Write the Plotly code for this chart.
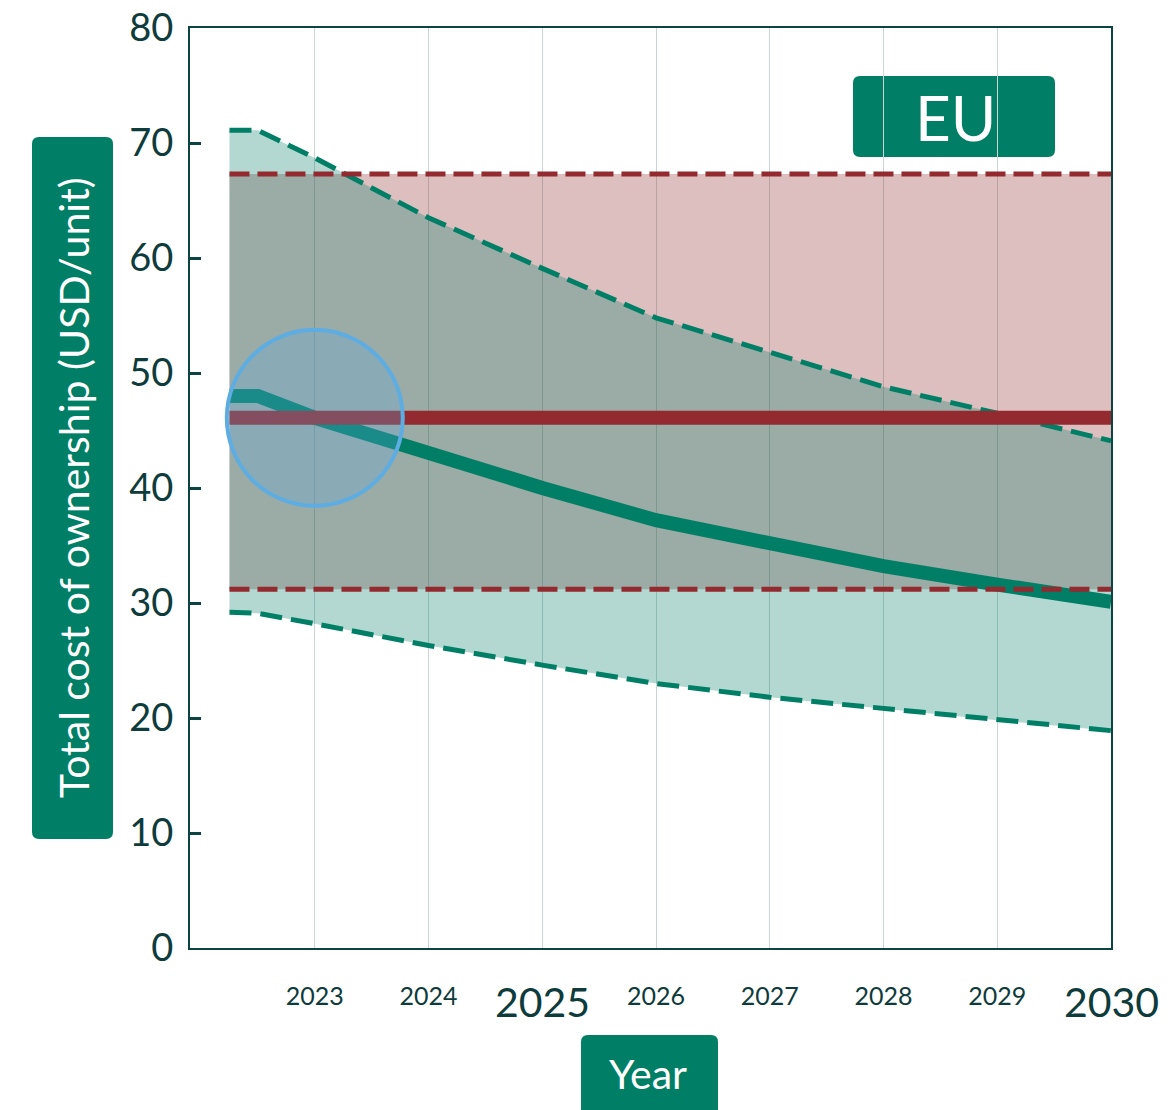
import plotly.graph_objects as go

# canvas and plot-area margins (pixels)
W, H = 1174, 1110
ML, MR, MT, MB = 190, 63, 28, 162

TEAL = "#007F66"
RED = "#922A2F"
DARK = "#0E3B3C"
BLUE = "#5DADE2"

# EU total cost of ownership (USD/unit)
years = [2022.25, 2022.5, 2023, 2024, 2025, 2026, 2027, 2028, 2029, 2030]
eu_high = [71.1, 71.1, 68.7, 63.5, 59.1, 54.8, 51.8, 48.8, 46.5, 44.1]
eu_mid = [48.0, 48.0, 46.1, 43.0, 40.0, 37.2, 35.2, 33.2, 31.6, 30.1]
eu_low = [29.2, 29.1, 28.2, 26.3, 24.6, 23.0, 21.8, 20.8, 19.8, 18.9]

# reference (flat) band
ref_years = [2022.25, 2030]
ref_high = [67.3, 67.3]
ref_mid = [46.1, 46.1]
ref_low = [31.2, 31.2]

tick_years = [2023, 2024, 2025, 2026, 2027, 2028, 2029, 2030]
big_years = [2025, 2030]
y_ticks = [0, 10, 20, 30, 40, 50, 60, 70, 80]

# highlighted point
hl_year, hl_value = 2023, 46.1

X_RANGE = [2021.903, 2030]
Y_RANGE = [0, 80]

PW = W - ML - MR
PH = H - MT - MB


def px_to_paper(x, y):
    return (x - ML) / PW, (H - MB - y) / PH


def rounded_box(x0, y0, x1, y1, r):
    pts = [
        ("M", (x0 + r, y0)),
        ("L", (x1 - r, y0)),
        ("Q", (x1, y0), (x1, y0 + r)),
        ("L", (x1, y1 - r)),
        ("Q", (x1, y1), (x1 - r, y1)),
        ("L", (x0 + r, y1)),
        ("Q", (x0, y1), (x0, y1 - r)),
        ("L", (x0, y0 + r)),
        ("Q", (x0, y0), (x0 + r, y0)),
    ]
    path = ""
    for cmd, *ps in pts:
        coords = " ".join("%.5f,%.5f" % px_to_paper(*p) for p in ps)
        path += cmd + coords + " "
    return dict(type="path", xref="paper", yref="paper", path=path + "Z",
                fillcolor=TEAL, line=dict(width=0), layer="below")


def label(text, cx, cy, size, family="Lato", angle=0):
    x, y = px_to_paper(cx, cy)
    fig.add_annotation(x=x, y=y, xref="paper", yref="paper", text=text,
                       xanchor="center", yanchor="middle", textangle=angle,
                       showarrow=False,
                       font=dict(size=size, color="white", family=family))


fig = go.Figure()

# red reference band
fig.add_trace(go.Scatter(x=ref_years, y=ref_low, mode="lines",
                         line=dict(width=0), showlegend=False, hoverinfo="skip"))
fig.add_trace(go.Scatter(x=ref_years, y=ref_high, mode="lines", fill="tonexty",
                         fillcolor="rgba(146,42,47,0.3)",
                         line=dict(width=0), showlegend=False, hoverinfo="skip"))

# EU band
fig.add_trace(go.Scatter(x=years, y=eu_low, mode="lines",
                         line=dict(width=0), showlegend=False, hoverinfo="skip"))
fig.add_trace(go.Scatter(x=years, y=eu_high, mode="lines", fill="tonexty",
                         fillcolor="rgba(0,127,102,0.3)",
                         line=dict(width=0), showlegend=False, hoverinfo="skip"))

# EU lines
for ys in (eu_low, eu_high):
    fig.add_trace(go.Scatter(x=years, y=ys, mode="lines",
                             line=dict(color=TEAL, width=5, dash="22px,9px"),
                             showlegend=False))
fig.add_trace(go.Scatter(x=years, y=eu_mid, mode="lines",
                         line=dict(color=TEAL, width=14), showlegend=False))

# reference lines
for ys in (ref_low, ref_high):
    fig.add_trace(go.Scatter(x=ref_years, y=ys, mode="lines",
                             line=dict(color=RED, width=5, dash="20px,8px"),
                             showlegend=False))
fig.add_trace(go.Scatter(x=ref_years, y=ref_mid, mode="lines",
                         line=dict(color=RED, width=14), showlegend=False))

# highlight circle (radius in pixels)
r_px = 88
dx = r_px * (X_RANGE[1] - X_RANGE[0]) / PW
dy = r_px * (Y_RANGE[1] - Y_RANGE[0]) / PH
fig.add_shape(type="circle", xref="x", yref="y",
              x0=hl_year - dx, x1=hl_year + dx,
              y0=hl_value - dy, y1=hl_value + dy,
              fillcolor="rgba(93,173,226,0.28)",
              line=dict(color=BLUE, width=4), layer="above")

# label boxes
fig.add_shape(rounded_box(853, 76, 1055, 157, 7))
fig.add_shape(rounded_box(32, 137, 113, 839, 7))
fig.add_shape(rounded_box(581, 1035, 718, 1125, 7))

label("EU", 955, 117, 62)
label("Total cost of ownership (USD/unit)", 73, 488, 41, angle=-90)
label("Year", 648, 1073, 41)

# big year labels drawn separately so their tops line up with the small ones
tick_text = ["" if yr in big_years else str(yr) for yr in tick_years]
for yr in big_years:
    fig.add_annotation(x=yr, y=px_to_paper(0, 1001.5)[1], xref="x", yref="paper",
                       text=str(yr), showarrow=False,
                       xanchor="center", yanchor="middle",
                       font=dict(size=41, color=DARK, family="Lato"))

fig.update_xaxes(range=X_RANGE, tickvals=tick_years, ticktext=tick_text,
                 showgrid=True, gridcolor="#C9D6D5", gridwidth=1,
                 showline=True, linecolor="#0B4442", linewidth=2, mirror=True,
                 ticks="", zeroline=False, ticklabelstandoff=25,
                 automargin=False,
                 tickfont=dict(size=25, color=DARK, family="Lato"))
fig.update_yaxes(range=Y_RANGE, tickvals=y_ticks, showgrid=False,
                 showline=True, linecolor="#0B4442", linewidth=2, mirror=True,
                 ticks="inside", ticklen=11, tickwidth=3, tickcolor="#0B4442",
                 zeroline=False, ticklabelstandoff=7, automargin=False,
                 tickfont=dict(size=38, color=DARK, family="Lato"))

fig.update_layout(width=W, height=H, margin=dict(l=ML, r=MR, t=MT, b=MB),
                  plot_bgcolor="white", paper_bgcolor="white",
                  showlegend=False)

fig.write_html("out.html", config={"displayModeBar": False},
               post_script="document.body.style.margin='0';"
                           "document.body.style.padding='0';")
